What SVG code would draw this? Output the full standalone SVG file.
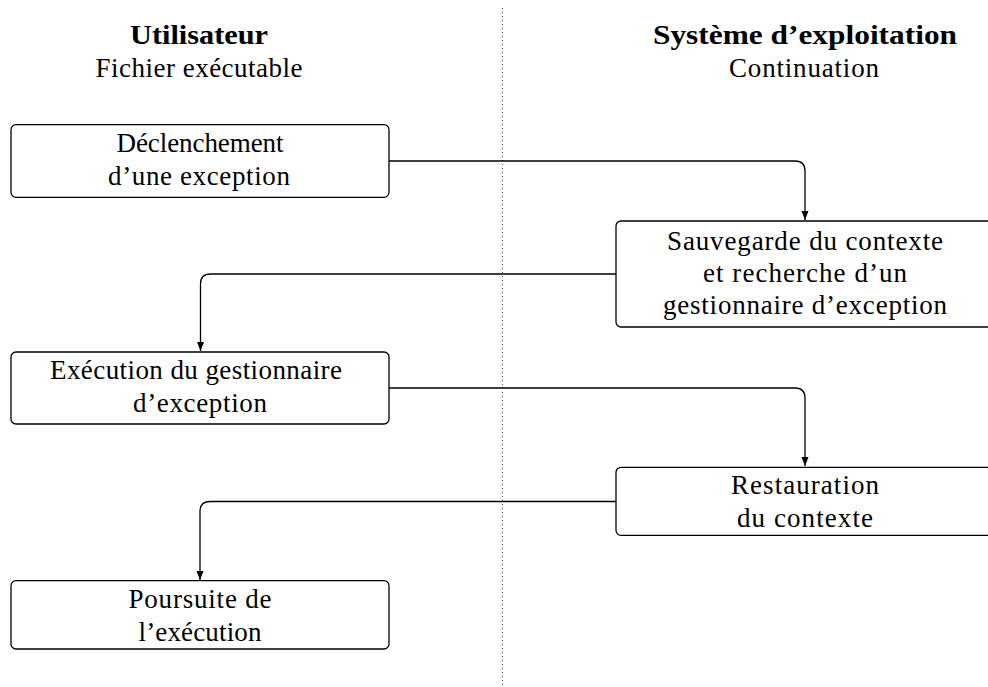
<svg xmlns="http://www.w3.org/2000/svg" width="988" height="687" viewBox="0 0 988 687">
<style>
.box{fill:#fff;stroke:#000;stroke-width:1.3}
.t{font-family:"Liberation Serif","Times New Roman",serif;font-size:27px;text-anchor:middle;fill:#000}
.b{font-weight:bold}
.c{fill:none;stroke:#000;stroke-width:1.3}
</style>
<defs>
<marker id="ah" markerUnits="userSpaceOnUse" markerWidth="10" markerHeight="10" viewBox="0 0 10 10" refX="9" refY="5" orient="auto">
<path d="M0,1.5 L9,5 L0,8.5 Z" fill="#000"/>
</marker>
</defs>
<rect width="988" height="687" fill="#fff"/>
<line x1="502.5" y1="8" x2="502.5" y2="687" stroke="#555" stroke-width="1" stroke-dasharray="1 3"/>
<g id="header-left">
<text class="t b" x="199" y="44" textLength="138" lengthAdjust="spacingAndGlyphs">Utilisateur</text>
<text class="t" x="199" y="77" textLength="207" lengthAdjust="spacing">Fichier exécutable</text>
</g>
<g id="header-right">
<text class="t b" x="805" y="44" textLength="304" lengthAdjust="spacingAndGlyphs">Système d’exploitation</text>
<text class="t" x="804" y="77" textLength="150" lengthAdjust="spacing">Continuation</text>
</g>
<g id="connectors">
<path class="c" d="M389,161 H795 Q805,161 805,171 V220" marker-end="url(#ah)"/>
<path class="c" d="M616,274 H210.5 Q200.5,274 200.5,284 V351" marker-end="url(#ah)"/>
<path class="c" d="M389,388 H795 Q805,388 805,398 V466" marker-end="url(#ah)"/>
<path class="c" d="M616,501.5 H210 Q200,501.5 200,511.5 V580" marker-end="url(#ah)"/>
</g>
<g id="n1">
<rect class="box" x="11" y="124.7" width="378" height="72.6" rx="5"/>
<text class="t" x="200" y="152" textLength="167" lengthAdjust="spacing">Déclenchement</text>
<text class="t" x="199" y="185" textLength="182" lengthAdjust="spacing">d’une exception</text>
</g>
<g id="n2">
<rect class="box" x="616" y="221" width="378" height="106" rx="5"/>
<text class="t" x="805" y="250" textLength="276" lengthAdjust="spacing">Sauvegarde du contexte</text>
<text class="t" x="805" y="282" textLength="204" lengthAdjust="spacing">et recherche d’un</text>
<text class="t" x="805" y="314" textLength="284" lengthAdjust="spacing">gestionnaire d’exception</text>
</g>
<g id="n3">
<rect class="box" x="11" y="352" width="378" height="72" rx="5"/>
<text class="t" x="196" y="379" textLength="292" lengthAdjust="spacing">Exécution du gestionnaire</text>
<text class="t" x="200" y="412" textLength="134" lengthAdjust="spacing">d’exception</text>
</g>
<g id="n4">
<rect class="box" x="616" y="467.3" width="378" height="68" rx="5"/>
<text class="t" x="805" y="494" textLength="148" lengthAdjust="spacing">Restauration</text>
<text class="t" x="805" y="527" textLength="136" lengthAdjust="spacing">du contexte</text>
</g>
<g id="n5">
<rect class="box" x="11" y="580.7" width="378" height="68.3" rx="5"/>
<text class="t" x="200" y="608" textLength="143" lengthAdjust="spacing">Poursuite de</text>
<text class="t" x="200" y="641" textLength="123" lengthAdjust="spacing">l’exécution</text>
</g>
</svg>
